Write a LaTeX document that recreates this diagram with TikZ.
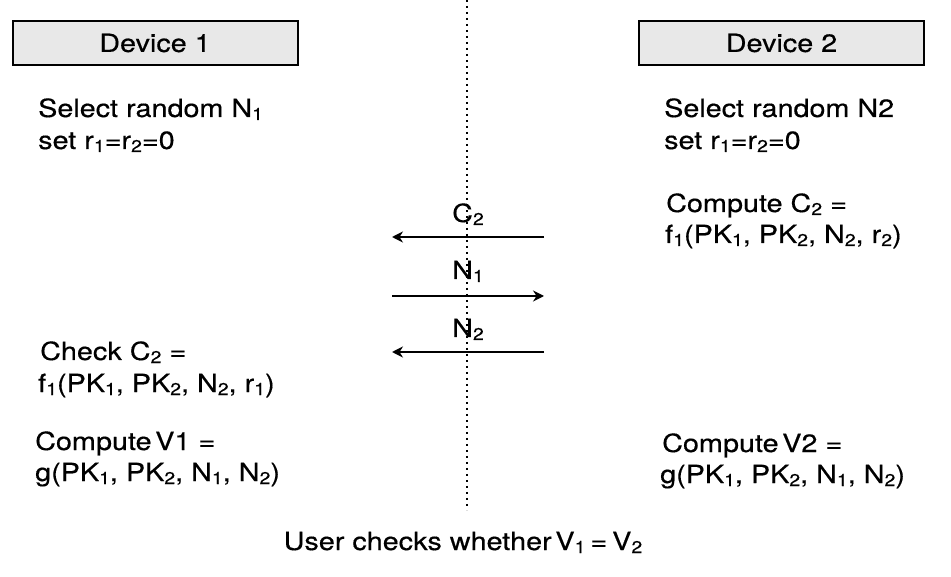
\documentclass[tikz,border=0pt]{standalone}
\usepackage{fontspec}
\setmainfont{TeX Gyre Heros}[FakeStretch=1.15,FakeBold=0.4]
\usetikzlibrary{arrows.meta}
\definecolor{boxgray}{RGB}{232,232,232}
\newcommand\lo[1]{\raisebox{-0.12em}{\fontsize{17}{17}\selectfont #1}}
\begin{document}
\begin{tikzpicture}[x=1pt,y=-1pt,
  txt/.style={anchor=base west, inner sep=0pt, font=\fontsize{25}{31}\selectfont},
  lbl/.style={anchor=base, inner sep=0pt, font=\fontsize{25}{31}\selectfont},
  devbox/.style={draw, line width=2pt, fill=boxgray, minimum width=285pt, minimum height=44pt, inner sep=0pt, font=\fontsize{25}{31}\selectfont},
  msg/.style={line width=2.4pt, -{Stealth[length=11pt,width=11pt]}},
  divider/.style={line width=2.3pt, dash pattern=on 2.3pt off 3.7pt}]
\useasboundingbox (0,0) rectangle (951,577);

% divider
\coordinate (dtop) at (467,0);
\coordinate (dbot) at (467,510);
\draw[divider] (dtop) -- (dbot);

% device boxes
\node[devbox] (dev1) at (155,43) {Device 1};
\node[devbox] (dev2) at (781.5,43) {Device 2};

% left column
\node[txt] (l1) at (38,117) {Select random N\lo{1}};
\node[txt] (l2) at (38,149) {set r\lo{1}=r\lo{2}=0};
\node[txt] (l3) at (40,360) {Check C\lo{2} =};
\node[txt] (l4) at (38,392) {f\lo{1}(PK\lo{1}, PK\lo{2}, N\lo{2}, r\lo{1})};
\node[txt] (l5) at (35,450) {Compute\hspace{0.15em}V1 =};
\node[txt] (l6) at (35,481) {g(PK\lo{1}, PK\lo{2}, N\lo{1}, N\lo{2})};

% right column
\node[txt] (r1) at (664,117) {Select random N2};
\node[txt] (r2) at (664,149) {set r\lo{1}=r\lo{2}=0};
\node[txt] (r3) at (666,212) {Compute C\lo{2} =};
\node[txt] (r4) at (665,243) {f\lo{1}(PK\lo{1}, PK\lo{2}, N\lo{2}, r\lo{2})};
\node[txt] (r5) at (662,452) {Compute\hspace{0.15em}V2 =};
\node[txt] (r6) at (660,483) {g(PK\lo{1}, PK\lo{2}, N\lo{1}, N\lo{2})};

% messages
\coordinate (m1r) at (544,237); \coordinate (m1l) at (392,237);
\coordinate (m2l) at (392,296); \coordinate (m2r) at (544,296);
\coordinate (m3r) at (544,352); \coordinate (m3l) at (392,352);
\draw[msg] (m1r) -- (m1l);
\draw[msg] (m2l) -- (m2r);
\draw[msg] (m3r) -- (m3l);
\node[lbl] (c2) at (468,222) {C\lo{2}};
\node[lbl] (n1) at (468,279) {N\lo{1}};
\node[lbl] (n2) at (468,337) {N\lo{2}};

% bottom
\node[lbl] (user) at (463,550) {User checks whether\hspace{0.15em}V\lo{1}\hspace{0.2em}=\hspace{0.2em}V\lo{2}};
\end{tikzpicture}
\end{document}
